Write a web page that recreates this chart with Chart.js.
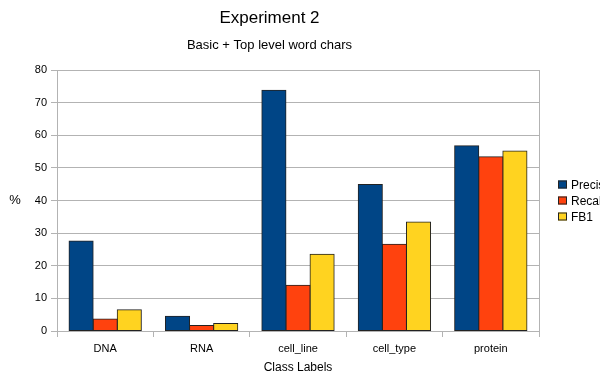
<!DOCTYPE html>
<html>
<head>
<meta charset="utf-8">
<script src="https://cdn.jsdelivr.net/npm/chart.js@4"></script>
<style>
  html, body { margin: 0; padding: 0; background: #fff; }
  #wrap { width: 600px; height: 375px; position: relative; }
</style>
</head>
<body>
<div id="wrap"><canvas id="chart"></canvas></div>
<script>
// データ
const categories = ["DNA", "RNA", "cell_line", "cell_type", "protein"];
const seriesNames = ["Precision", "Recall", "FB1"];
const precision = [27.6, 4.5, 73.8, 44.9, 56.8];
const recall = [3.7, 1.7, 14.0, 26.6, 53.4];
const fb1 = [6.5, 2.3, 23.5, 33.4, 55.2];
const seriesColors = ["#004586", "#ff420e", "#ffd320"];
const yAxisTitle = "%";

const FONT = "'Liberation Sans', Arial, sans-serif";

// 凡例（右側、画像の端で切れる）と Y 軸タイトル
const legendPlugin = {
  id: "sideLegend",
  afterDraw(chart) {
    const ctx = chart.ctx;
    const area = chart.chartArea;
    const x = area.right + 19;
    const yMid = (area.top + area.bottom) / 2;
    ctx.save();
    ctx.font = "12px " + FONT;
    ctx.textBaseline = "middle";
    chart.data.datasets.forEach((ds, i) => {
      const y = yMid - 16 + i * 16;
      ctx.fillStyle = ds.backgroundColor;
      ctx.fillRect(x, y - 4, 9, 8);
      ctx.strokeStyle = "#222";
      ctx.lineWidth = 1;
      ctx.strokeRect(x + 0.5, y - 3.5, 8, 7);
      ctx.fillStyle = "#000";
      ctx.fillText(ds.label, x + 13, y + 1);
    });
    // Y 軸タイトル（横向き）
    ctx.font = "13px " + FONT;
    ctx.textAlign = "center";
    ctx.fillText(yAxisTitle, 15, yMid);
    // プロット右端の枠線
    ctx.strokeStyle = "#b3b3b3";
    ctx.beginPath();
    ctx.moveTo(Math.round(area.right) + 0.5, area.top);
    ctx.lineTo(Math.round(area.right) + 0.5, area.bottom);
    ctx.stroke();
    ctx.restore();
  }
};

new Chart(document.getElementById("chart"), {
  type: "bar",
  data: {
    labels: categories,
    datasets: [
      { label: seriesNames[0], data: precision, backgroundColor: seriesColors[0] },
      { label: seriesNames[1], data: recall, backgroundColor: seriesColors[1] },
      { label: seriesNames[2], data: fb1, backgroundColor: seriesColors[2] }
    ].map(ds => Object.assign(ds, { borderColor: "#222", borderWidth: 1, borderSkipped: false, inflateAmount: 0.5 }))
  },
  options: {
    responsive: true,
    maintainAspectRatio: false,
    animation: false,
    devicePixelRatio: 1,
    layout: { padding: { top: 0, right: 61, bottom: 0, left: 0 } },
    datasets: { bar: { categoryPercentage: 0.75, barPercentage: 1 } },
    plugins: {
      legend: { display: false },
      tooltip: { enabled: false },
      title: {
        display: true,
        text: "Experiment 2",
        color: "#000",
        font: { family: FONT, size: 17, weight: "normal" },
        padding: { top: 8, bottom: 9 }
      },
      subtitle: {
        display: true,
        text: "Basic + Top level word chars",
        color: "#000",
        font: { family: FONT, size: 13, weight: "normal" },
        padding: { top: 0, bottom: 17 }
      }
    },
    scales: {
      x: {
        grid: { offset: true, drawOnChartArea: false, color: "#b3b3b3", tickLength: 6 },
        border: { color: "#b3b3b3" },
        ticks: { color: "#000", font: { family: FONT, size: 11 }, padding: 5 },
        title: { display: true, text: "Class Labels", color: "#000", font: { family: FONT, size: 12 }, padding: { top: 5, bottom: 0 } },
        afterFit(scale) { scale.height = 44; }
      },
      y: {
        min: 0,
        max: 80,
        ticks: { stepSize: 10, color: "#000", font: { family: FONT, size: 11 }, padding: 4 },
        grid: { color: "#b3b3b3", tickLength: 6 },
        border: { color: "#b3b3b3" },
        afterFit(scale) { scale.width = 57; }
      }
    }
  },
  plugins: [legendPlugin]
});
</script>
</body>
</html>
